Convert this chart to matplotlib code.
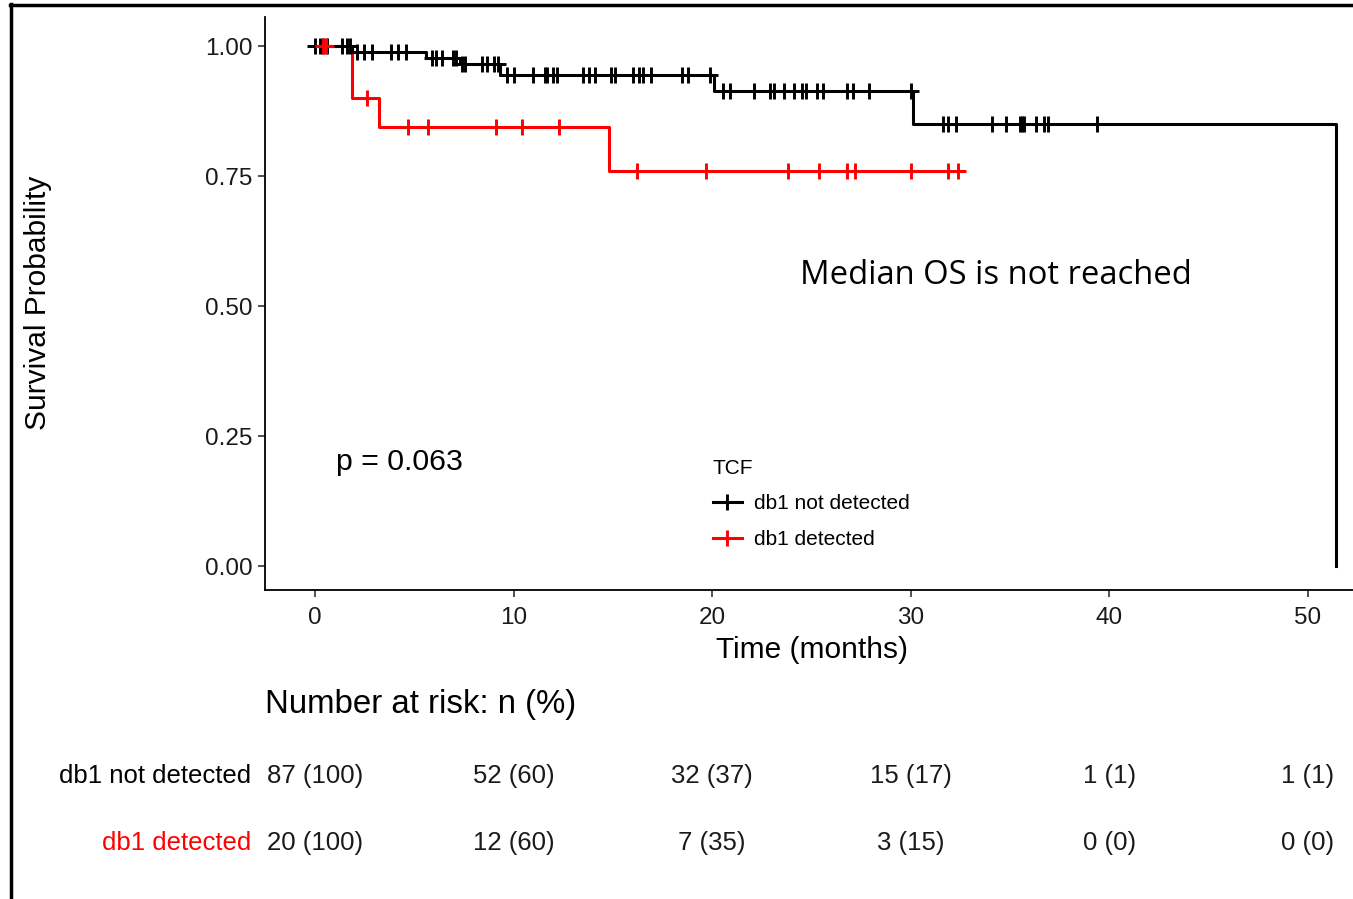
import numpy as np
import matplotlib
matplotlib.use("Agg")
import matplotlib.pyplot as plt
from matplotlib.lines import Line2D
from matplotlib.transforms import blended_transform_factory

# ---------------- data ----------------
groups = ["db1 not detected", "db1 detected"]
colors = ["black", "#FF0000"]

black_times = [0, 1.85, 5.6, 7.3, 9.3, 20.1, 30.1, 51.4]
black_surv = [1.0, 0.9885, 0.977, 0.965, 0.944, 0.914, 0.851, 0.0]
black_censor = [0.0, 0.25, 0.4, 0.6, 1.35, 1.6, 1.75,
                2.1, 2.45, 2.85, 3.85, 4.2, 4.6,
                5.9, 6.1, 6.4, 6.95, 7.1,
                7.4, 7.55, 8.4, 8.65, 9.0, 9.2,
                9.65, 10.0, 11.0, 11.6, 11.7, 12.0, 12.2, 13.5, 13.8, 14.1,
                14.9, 15.1, 16.0, 16.3, 16.5, 16.9, 18.5, 18.8, 19.9,
                20.55, 20.9, 22.1, 22.9, 23.1, 23.6, 24.1, 24.5, 24.7, 25.3,
                25.6, 26.8, 27.1, 27.9, 30.0,
                31.6, 31.9, 32.3, 34.1, 34.8, 35.5, 35.6, 35.7, 36.3, 36.7,
                36.9, 39.4]

red_times = [0, 1.85, 3.2, 14.8, 32.6]
red_surv = [1.0, 0.9, 0.844, 0.759, 0.759]
red_censor = [0.4, 0.55, 2.6, 4.7, 5.7, 9.1, 10.4, 12.3, 16.2, 19.7, 23.8,
              25.4, 26.8, 27.2, 30.0, 31.9, 32.4]

x_ticks = [0, 10, 20, 30, 40, 50]
y_ticks = [0.0, 0.25, 0.5, 0.75, 1.0]
y_tick_labels = ["0.00", "0.25", "0.50", "0.75", "1.00"]

risk_black = ["87 (100)", "52 (60)", "32 (37)", "15 (17)", "1 (1)", "1 (1)"]
risk_red = ["20 (100)", "12 (60)", "7 (35)", "3 (15)", "0 (0)", "0 (0)"]

p_text = "p = 0.063"
note_text = "Median OS is not reached"

# ---------------- figure ----------------
W, H = 1353, 899
fig = plt.figure(figsize=(W / 100, H / 100), dpi=100)
plt.rcParams["font.family"] = ["Liberation Sans", "DejaVu Sans"]

def fx(px):
    return px / W

def fy(py):
    return 1 - py / H

ax = fig.add_axes([fx(265), fy(590), fx(1353) - fx(265), fy(17) - fy(590)])
ax.set_xlim(-2.52, 52.27)
ax.set_ylim(-0.046, 1.0558)

def surv_at(times, surv, t):
    idx = np.searchsorted(times, t, side="right") - 1
    return np.asarray(surv)[idx]

lw = 2.2
ax.step(red_times, red_surv, where="post", color=colors[1], lw=lw, zorder=2)
ax.step(black_times, black_surv, where="post", color=colors[0], lw=lw, zorder=3)

ms, mew = 11, 2.1
ax.plot(black_censor, surv_at(black_times, black_surv, black_censor), ls="none",
        marker="+", ms=ms, mew=mew, color=colors[0], zorder=4)
ax.plot(red_censor, surv_at(red_times, red_surv, red_censor), ls="none",
        marker="+", ms=ms, mew=mew, color=colors[1], zorder=5)

for s in ["top", "right"]:
    ax.spines[s].set_visible(False)
for s in ["left", "bottom"]:
    ax.spines[s].set_linewidth(1.3)
ax.set_xticks(x_ticks)
ax.set_yticks(y_ticks)
ax.set_yticklabels(y_tick_labels)
ax.tick_params(axis="both", labelsize=17.5, length=5, width=1.2,
               colors="#333333", labelcolor="#1a1a1a")
ax.tick_params(axis="x", pad=7)
ax.tick_params(axis="y", pad=4)

# axis labels
fig.text(fx(38), fy(303), "Survival Probability", rotation=90, ha="center",
         va="center", fontsize=21.5)
fig.text(fx(812), fy(650), "Time (months)", ha="center", va="center", fontsize=21.5)

# annotations
ax.text(1.05, 0.2, p_text, fontsize=21.8, ha="left", va="center",
        transform=ax.transData)
fig.text(fx(800), fy(275), note_text, ha="left", va="center", fontsize=23.6,
         family=["Open Sans", "DejaVu Sans"])

# legend
handles = [Line2D([0], [0], color=c, lw=lw, marker="+", ms=ms, mew=mew) for c in colors]
leg = fig.legend(handles, groups, loc="upper left",
                 bbox_to_anchor=(fx(694), fy(440)), frameon=False,
                 title="TCF", fontsize=15, title_fontsize=15,
                 handlelength=1.4, handletextpad=0.6, labelspacing=0.8,
                 alignment="left")

# risk table
trans = blended_transform_factory(ax.transData, fig.transFigure)
fig.text(fx(265), fy(705), "Number at risk: n (%)", ha="left", va="center", fontsize=23.8)
for row, (lab, col, vals, ypx) in enumerate(zip(groups, colors,
                                               [risk_black, risk_red], [776, 843])):
    fig.text(fx(251), fy(ypx), lab, ha="right", va="center", fontsize=18.5, color=col)
    for x, v in zip(x_ticks, vals):
        ax.text(x, fy(ypx), v, ha="center", va="center", fontsize=18.5,
                transform=trans, color="#1a1a1a")

# outer border lines (top and left)
fig.add_artist(Line2D([fx(10), 1], [fy(5), fy(5)], color="black", lw=2.5,
                      transform=fig.transFigure))
fig.add_artist(Line2D([fx(11), fx(11)], [fy(4), 0], color="black", lw=2.5,
                      transform=fig.transFigure))

fig.savefig("out.png", dpi=100)
